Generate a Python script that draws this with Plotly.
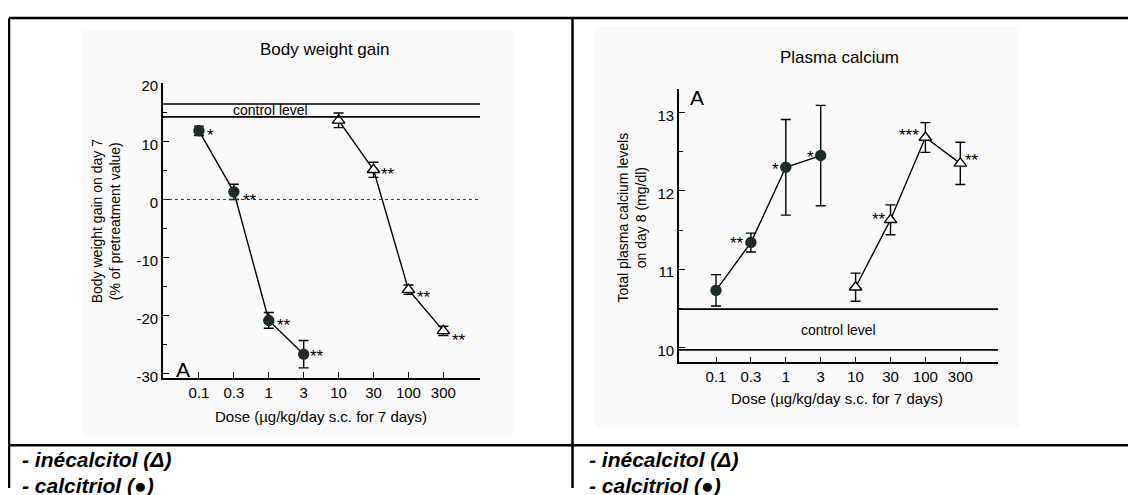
import plotly.graph_objects as go

# ---------------- data ----------------
doses = ["0.1", "0.3", "1", "3", "10", "30", "100", "300"]
calcitriol_doses = ["0.1", "0.3", "1", "3"]
inecalcitol_doses = ["10", "30", "100", "300"]

# Body weight gain (% of pretreatment value)
bw_calcitriol = [11.8, 1.3, -20.8, -26.6]
bw_calcitriol_err = [0.8, 1.3, 1.35, 2.35]
bw_inecalcitol = [13.6, 5.1, -15.5, -22.6]
bw_inecalcitol_err = [1.25, 1.3, 0.8, 0.8]
bw_control = [14.2, 16.4]
bw_calcitriol_stars = ["*", "**", "**", "**"]
bw_inecalcitol_stars = ["", "**", "**", "**"]
bw_yticks = [-30, -20, -10, 0, 10, 20]

# Plasma calcium (mg/dl)
ca_calcitriol = [10.73, 11.34, 12.30, 12.45]
ca_calcitriol_err = [0.2, 0.12, 0.61, 0.64]
ca_inecalcitol = [10.77, 11.63, 12.68, 12.35]
ca_inecalcitol_err = [0.18, 0.19, 0.19, 0.27]
ca_control = [9.97, 10.49]
ca_calcitriol_stars = ["", "**", "*", "*"]
ca_inecalcitol_stars = ["", "**", "***", "**"]
ca_yticks = [10, 11, 12, 13]

titles = ["Body weight gain", "Plasma calcium"]
ytitles = ["Body weight gain on day 7<br>(% of pretreatment value)",
           "Total plasma calcium levels<br>on day 8 (mg/dl)"]
xtitle = "Dose (µg/kg/day s.c. for 7 days)"
legend_lines = ["- inécalcitol (Δ)", "- calcitriol (●)"]

# ---------------- styling ----------------
PAGE_W, PAGE_H = 1136, 495
OFF = 8                      # default body margin of the html page
W, H = PAGE_W - OFF, PAGE_H - OFF
FONT = "Liberation Sans, Arial, sans-serif"
DARK = "#1e2b2a"


def px(x):
    """page pixel x -> paper fraction"""
    return (x - OFF) / W


def py(y):
    """page pixel y -> paper fraction"""
    return 1 - (y - OFF) / H


fig = go.Figure()

# star offsets (glyph centre relative to point, px; y up)
bw_calc_off = [(12, 0), (16, -4), (15, 0), (13, 3)]
bw_inec_off = [(0, 0), (14, 0), (16, -3), (16, -5)]
ca_calc_off = [(0, 0), (-14, 4), (-10, 3), (-10, 3)]
ca_inec_off = [(0, 0), (-12, 5), (-16, 7), (12, 8)]


def add_series(xs, ys, errs, xa, ya, symbol, size, color, fill):
    fig.add_trace(go.Scatter(
        x=xs, y=ys, xaxis=xa, yaxis=ya, mode="lines+markers",
        line=dict(color="black", width=1.4),
        marker=dict(symbol=symbol, size=size, color=fill,
                    line=dict(color=color, width=1.4)),
        error_y=dict(type="data", array=errs, visible=True, color="black",
                     thickness=1.4, width=5),
        showlegend=False, hoverinfo="skip"))


add_series(calcitriol_doses, bw_calcitriol, bw_calcitriol_err, "x", "y",
           "circle", 10, DARK, DARK)
add_series(inecalcitol_doses, bw_inecalcitol, bw_inecalcitol_err, "x", "y",
           "triangle-up", 11, "black", "white")
add_series(calcitriol_doses, ca_calcitriol, ca_calcitriol_err, "x2", "y2",
           "circle", 10, DARK, DARK)
add_series(inecalcitol_doses, ca_inecalcitol, ca_inecalcitol_err, "x2", "y2",
           "triangle-up", 11, "black", "white")

annotations = []


def add_stars(xs, ys, stars, offs, xr, yr):
    for x, y, s, (dx, dy) in zip(xs, ys, stars, offs):
        if not s:
            continue
        annotations.append(dict(x=doses.index(x), y=y, xref=xr, yref=yr, text=s,
                                showarrow=False, xshift=dx, yshift=dy - 5,
                                font=dict(family=FONT, size=17, color="black"),
                                xanchor="center", yanchor="middle"))


add_stars(calcitriol_doses, bw_calcitriol, bw_calcitriol_stars, bw_calc_off, "x", "y")
add_stars(inecalcitol_doses, bw_inecalcitol, bw_inecalcitol_stars, bw_inec_off, "x", "y")
add_stars(calcitriol_doses, ca_calcitriol, ca_calcitriol_stars, ca_calc_off, "x2", "y2")
add_stars(inecalcitol_doses, ca_inecalcitol, ca_inecalcitol_stars, ca_inec_off, "x2", "y2")

shapes = []
# faint scanned-figure backgrounds
shapes.append(dict(type="rect", xref="paper", yref="paper", x0=px(82), x1=px(513),
                   y0=py(442), y1=py(25), fillcolor="#fafafa", line=dict(width=0), layer="below"))
shapes.append(dict(type="rect", xref="paper", yref="paper", x0=px(595), x1=px(1019),
                   y0=py(433), y1=py(20), fillcolor="#fafafa", line=dict(width=0), layer="below"))

# control level lines
for v in bw_control:
    shapes.append(dict(type="line", xref="x domain", yref="y", x0=0, x1=1, y0=v, y1=v,
                       line=dict(color="black", width=1.6)))
for v in ca_control:
    shapes.append(dict(type="line", xref="x2 domain", yref="y2", x0=0, x1=1, y0=v, y1=v,
                       line=dict(color="black", width=1.6)))
# dotted zero line
shapes.append(dict(type="line", xref="x domain", yref="y", x0=0, x1=1, y0=0, y1=0,
                   line=dict(color="#333333", width=1, dash="dot")))

# table borders
LW = 2.5
shapes += [
    dict(type="line", xref="paper", yref="paper", x0=px(9), x1=1, y0=py(12), y1=py(12),
         line=dict(color="black", width=LW)),
    dict(type="line", xref="paper", yref="paper", x0=px(9), x1=1, y0=py(451), y1=py(451),
         line=dict(color="black", width=LW)),
    dict(type="line", xref="paper", yref="paper", x0=px(9), x1=px(9), y0=py(12), y1=0,
         line=dict(color="black", width=LW)),
    dict(type="line", xref="paper", yref="paper", x0=px(572.5), x1=px(572.5), y0=py(12), y1=0,
         line=dict(color="black", width=LW)),
]

CENTER = dict(xanchor="center", yanchor="middle", showarrow=False)

# control level labels
annotations.append(dict(CENTER, x=0.34, y=sum(bw_control) / 2, xref="x domain", yref="y",
                        text="control level",
                        font=dict(family=FONT, size=14, color="black")))
annotations.append(dict(CENTER, x=0.5, y=sum(ca_control) / 2, xref="x2 domain", yref="y2",
                        text="control level",
                        font=dict(family=FONT, size=14, color="black")))

# titles
for t, (cx, cy) in zip(titles, [(324, 44), (839, 53)]):
    annotations.append(dict(CENTER, x=px(cx), y=py(cy), xref="paper", yref="paper", text=t,
                            font=dict(family=FONT, size=17, color="black")))
for t, (cx, cy) in zip(ytitles, [(106, 221), (632, 217)]):
    annotations.append(dict(CENTER, x=px(cx), y=py(cy), xref="paper", yref="paper", text=t,
                            textangle=-90,
                            font=dict(family=FONT, size=14, color="black")))
for cx, cy in [(321, 422), (837, 403)]:
    annotations.append(dict(CENTER, x=px(cx), y=py(cy), xref="paper", yref="paper", text=xtitle,
                            font=dict(family=FONT, size=15, color="black")))
# panel letters
for cx, cy in [(183, 373), (697, 94)]:
    annotations.append(dict(CENTER, x=px(cx), y=py(cy), xref="paper", yref="paper", text="A",
                            font=dict(family=FONT, size=21, color="black")))

# bottom legend text in both table cells
for x0 in [20, 587]:
    for i, line in enumerate(legend_lines):
        annotations.append(dict(x=px(x0), y=py(466 + 26 * i), xref="paper", yref="paper",
                                text="<b><i>" + line + "</i></b>", showarrow=False,
                                xanchor="left", yanchor="middle",
                                font=dict(family=FONT, size=21, color="black")))

xaxis_common = dict(type="category", categoryorder="array", categoryarray=doses,
                    tickvals=doses, ticktext=doses, showline=True, linecolor="black",
                    linewidth=1.6, ticks="inside", ticklen=6, tickwidth=1.4,
                    tickcolor="black", showgrid=False, zeroline=False,
                    tickfont=dict(family=FONT, size=15, color="black"))
yaxis_common = dict(showline=True, linecolor="black", linewidth=1.6, ticks="inside",
                    ticklen=6, tickwidth=1.4, tickcolor="black", showgrid=False,
                    zeroline=False, ticklabelshift=3,
                    tickfont=dict(family=FONT, size=15, color="black"))

fig.update_layout(
    width=W, height=H, margin=dict(l=0, r=0, t=0, b=0),
    paper_bgcolor="white", plot_bgcolor="rgba(0,0,0,0)",
    xaxis=dict(xaxis_common, domain=[px(163), px(480)], range=[-1.03, 8.05], anchor="y"),
    yaxis=dict(yaxis_common, domain=[py(382), py(79)], range=[-30.7, 20],
               tickvals=bw_yticks, ticktext=[str(v) for v in bw_yticks],
               minor=dict(dtick=5, ticks="inside", ticklen=4, tickcolor="black", tickwidth=1.2),
               anchor="x"),
    xaxis2=dict(xaxis_common, domain=[px(679), px(998)], range=[-1.06, 8.08], anchor="y2"),
    yaxis2=dict(yaxis_common, domain=[py(366), py(85)], range=[9.81, 13.3],
                tickvals=ca_yticks, ticktext=[str(v) for v in ca_yticks],
                minor=dict(dtick=0.5, ticks="inside", ticklen=4, tickcolor="black", tickwidth=1.2),
                anchor="x2"),
    shapes=shapes, annotations=annotations,
)

fig.write_html("out.html")
